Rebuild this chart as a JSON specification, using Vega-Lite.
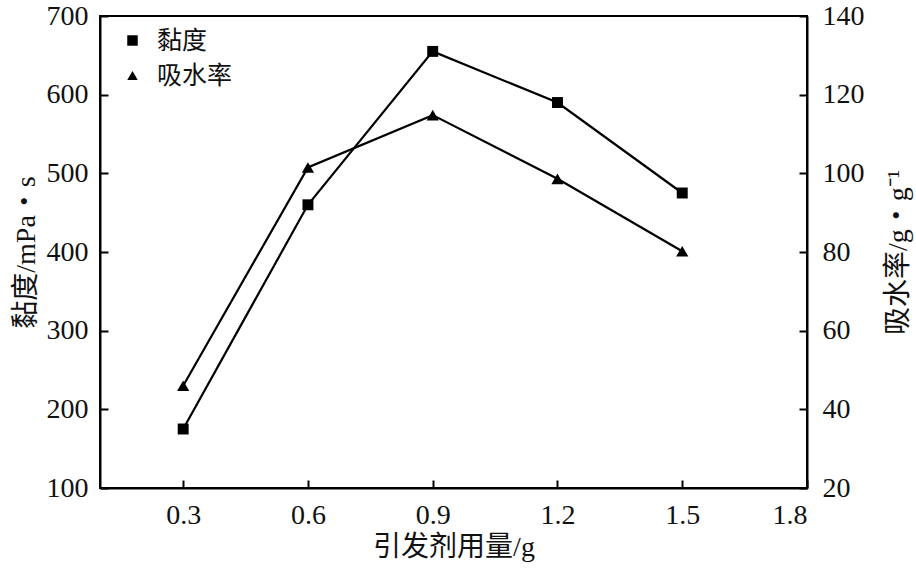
{
  "$schema": "https://vega.github.io/schema/vega-lite/v6.json",
  "autosize": "none",
  "width": 707,
  "height": 472,
  "padding": {"left": 100, "top": 16, "right": 109, "bottom": 86},
  "background": "white",
  "config": {
    "view": {"stroke": "black", "strokeWidth": 2},
    "font": "Liberation Serif, Noto Sans CJK SC",
    "axis": {
      "domainColor": "black", "domainWidth": 2,
      "tickColor": "black", "tickWidth": 2, "tickSize": -8,
      "labelFont": "Liberation Serif", "labelFontSize": 28, "labelColor": "#111",
      "titleFont": "Liberation Serif, Noto Sans CJK SC", "titleFontSize": 28, "titleFontWeight": "normal", "titleColor": "#111",
      "grid": false
    },
    "legend": {"labelFont": "Noto Sans CJK SC", "labelFontSize": 25, "labelColor": "#111"}
  },
  "data": {"values": [
    {"x": 0.3, "series": "黏度", "value": 175},
    {"x": 0.6, "series": "黏度", "value": 460},
    {"x": 0.9, "series": "黏度", "value": 655},
    {"x": 1.2, "series": "黏度", "value": 590},
    {"x": 1.5, "series": "黏度", "value": 475},
    {"x": 0.3, "series": "吸水率", "value": 46},
    {"x": 0.6, "series": "吸水率", "value": 101.5},
    {"x": 0.9, "series": "吸水率", "value": 114.8},
    {"x": 1.2, "series": "吸水率", "value": 98.6},
    {"x": 1.5, "series": "吸水率", "value": 80.2}
  ]},
  "encoding": {
    "x": {"field": "x", "type": "quantitative",
      "scale": {"domain": [0.1, 1.8], "nice": false, "zero": false},
      "axis": {"values": [0.3, 0.6, 0.9, 1.2, 1.5, 1.8], "format": ".1f", "title": "引发剂用量/g", "labelPadding": 21, "titlePadding": 4}}
  },
  "layer": [
    {
      "transform": [{"filter": "datum.series === '黏度'"}],
      "encoding": {
        "y": {"field": "value", "type": "quantitative",
          "scale": {"domain": [100, 700], "nice": false, "zero": false},
          "axis": {"values": [100, 200, 300, 400, 500, 600, 700], "title": "黏度/mPa・s", "orient": "left", "labelPadding": 20, "titlePadding": 6}}
      },
      "layer": [
        {"mark": {"type": "line", "color": "black", "strokeWidth": 2.2}},
        {"mark": {"type": "point", "filled": true, "opacity": 1, "size": 120},
         "encoding": {
           "shape": {"field": "series", "type": "nominal",
             "scale": {"domain": ["黏度", "吸水率"], "range": ["square", "triangle-up"]},
             "legend": {"title": null, "orient": "none", "legendX": 20, "legendY": 12, "symbolFillColor": "black", "symbolStrokeColor": "black", "symbolSize": 110, "rowPadding": 9, "labelOffset": 12}},
           "color": {"value": "black"}
         }}
      ]
    },
    {
      "transform": [{"filter": "datum.series === '吸水率'"}],
      "encoding": {
        "y": {"field": "value", "type": "quantitative",
          "scale": {"domain": [20, 140], "nice": false, "zero": false},
          "axis": {"values": [20, 40, 60, 80, 100, 120, 140], "title": "吸水率/g・g⁻¹", "orient": "right", "titleAngle": -90, "labelPadding": 23, "titlePadding": 48}}
      },
      "layer": [
        {"mark": {"type": "line", "color": "black", "strokeWidth": 2.2}},
        {"mark": {"type": "point", "filled": true, "opacity": 1, "size": 150},
         "encoding": {
           "shape": {"field": "series", "type": "nominal"},
           "color": {"value": "black"}
         }}
      ]
    }
  ],
  "resolve": {"scale": {"y": "independent"}}
}
